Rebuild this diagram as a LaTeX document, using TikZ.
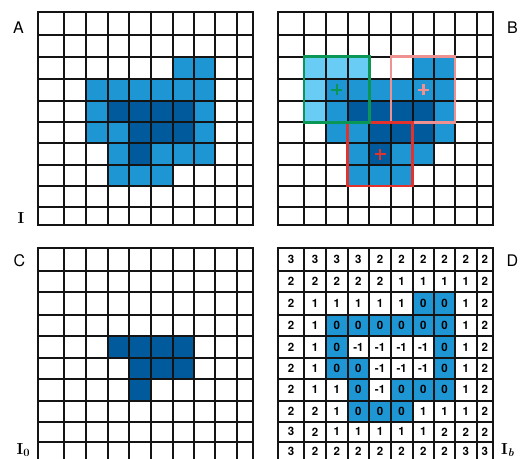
\documentclass[tikz,border=0pt]{standalone}
\usepackage{fontspec}
\setsansfont{TeX Gyre Heros}
\definecolor{midblue}{RGB}{30,150,212}
\definecolor{darkblue}{RGB}{0,90,155}
\definecolor{lightblue}{RGB}{104,204,245}
\definecolor{boxgreen}{RGB}{10,150,85}
\definecolor{boxpink}{RGB}{240,145,145}
\definecolor{boxred}{RGB}{225,50,45}
\definecolor{gridblack}{RGB}{20,20,20}
\newcommand\colx[2]{\pgfmathsetmacro#1{{38,64,86,107.5,129.3,150.8,172.5,194,215,236.5,253.3}[#2]}}
\newcommand\rowy[2]{\pgfmathsetmacro#1{{12,35,56.7,79,100.7,122.3,143.3,165,186,206.7,225}[#2]}}
\newcommand\cellbox[5]{%
  \pgfmathtruncatemacro\cn{#3+1}\pgfmathtruncatemacro\rn{#4+1}%
  \colx\xa{#3}\colx\xb{\cn}\rowy\ya{#4}\rowy\yb{\rn}%
  \fill[#5] ({\xa+#1},{\ya+#2}) rectangle ({\xb+#1},{\yb+#2});}
\newcommand\gridat[2]{%
  \foreach \gv in {38,64,86,107.5,129.3,150.8,172.5,194,215,236.5,253.3}
    \draw[gridline] ({\gv+#1},{12+#2}) -- ({\gv+#1},{225+#2});
  \foreach \gh in {12,35,56.7,79,100.7,122.3,143.3,165,186,206.7,225}
    \draw[gridline] ({38+#1},{\gh+#2}) -- ({253.3+#1},{\gh+#2});}
\begin{document}
\begin{tikzpicture}[x=1pt,y=-1pt,
  gridline/.style={line width=2pt,draw=gridblack,line cap=rect},
  num/.style={font=\sffamily\bfseries\fontsize{11.5}{13}\selectfont,inner sep=0pt},
  panellabel/.style={font=\sffamily\fontsize{16}{18}\selectfont,inner sep=0pt},
  imglabel/.style={font=\rmfamily\bfseries\fontsize{16}{18}\selectfont,inner sep=0pt,anchor=base west},
  winbox/.style={line width=2.5pt},
  plusmark/.style={line width=2.5pt}]
\useasboundingbox (0,0) rectangle (522,458);
\clip (0,0) rectangle (522,458);
\fill[white] (0,0) rectangle (522,458);
% ---------- Panel A ----------
\foreach \c/\r in {6/2,7/2,2/3,3/3,4/3,5/3,6/3,7/3,2/4,7/4,2/5,3/5,7/5,3/6,5/6,6/6,7/6,3/7,4/7,5/7}
  \cellbox{0}{0}{\c}{\r}{midblue};
\foreach \c/\r in {3/4,4/4,5/4,6/4,4/5,5/5,6/5,4/6}
  \cellbox{0}{0}{\c}{\r}{darkblue};
\gridat{0}{0}
% ---------- Panel B ----------
\foreach \c/\r in {6/2,7/2,2/3,3/3,4/3,5/3,6/3,7/3,2/4,7/4,2/5,3/5,7/5,3/6,5/6,6/6,3/7,4/7,5/7}
  \cellbox{240}{0}{\c}{\r}{midblue};
\foreach \c/\r in {3/4,4/4,5/4,6/4,4/5,5/5,6/5,4/6}
  \cellbox{240}{0}{\c}{\r}{darkblue};
\foreach \c/\r in {1/2,2/2,3/2,1/3,1/4}
  \cellbox{240}{0}{\c}{\r}{lightblue};
\gridat{240}{0}
\draw[winbox,boxpink] (390.8,56.7) rectangle (455,122.3);
\draw[winbox,boxred] (347.5,122.3) rectangle (412.5,186);
\draw[winbox,boxgreen] (304,56.7) rectangle (369.3,122.3);
\coordinate (pg) at (336.75,89.85);
\coordinate (pp) at (423.25,89.85);
\coordinate (pr) at (380,154.15);
\draw[plusmark,boxgreen] ([xshift=-5.5pt]pg) -- ([xshift=5.5pt]pg) ([yshift=-5.5pt]pg) -- ([yshift=5.5pt]pg);
\draw[plusmark,boxpink] ([xshift=-5.5pt]pp) -- ([xshift=5.5pt]pp) ([yshift=-5.5pt]pp) -- ([yshift=5.5pt]pp);
\draw[plusmark,boxred] ([xshift=-5.5pt]pr) -- ([xshift=5.5pt]pr) ([yshift=-5.5pt]pr) -- ([yshift=5.5pt]pr);
% ---------- Panel C ----------
\foreach \c/\r in {3/4,4/4,5/4,6/4,4/5,5/5,6/5,4/6}
  \cellbox{0}{235.5}{\c}{\r}{darkblue};
\gridat{0}{235.5}
% ---------- Panel D ----------
\foreach \r/\vals in {0/{3,3,3,3,2,2,2,2,2,2},1/{2,2,2,2,2,1,1,1,1,2},2/{2,1,1,1,1,1,0,0,1,2},
  3/{2,1,0,0,0,0,0,0,1,2},4/{2,1,0,-1,-1,-1,-1,0,1,2},5/{2,1,0,0,-1,-1,-1,0,1,2},
  6/{2,1,1,0,-1,0,0,0,1,2},7/{2,2,1,0,0,0,1,1,1,2},8/{3,2,1,1,1,1,1,2,2,2},9/{3,2,2,2,2,2,2,2,3,3}}{
  \foreach \v [count=\c from 0] in \vals {
    \ifnum\v=0 \cellbox{240}{235.5}{\c}{\r}{midblue}\fi
    \pgfmathtruncatemacro\cn{\c+1}\pgfmathtruncatemacro\rn{\r+1}
    \colx\xa{\c}\colx\xb{\cn}\rowy\ya{\r}\rowy\yb{\rn}
    \node[num] (d-\r-\c) at ({(\xa+\xb)/2+240},{(\ya+\yb)/2+235.5}) {\v};
  }
}
\gridat{240}{235.5}
% ---------- Labels ----------
\node[panellabel] (labA) at (18.5,28) {A};
\node[panellabel] (labB) at (512.5,27.5) {B};
\node[panellabel] (labC) at (19.5,260.5) {C};
\node[panellabel] (labD) at (512.5,260.5) {D};
\node[imglabel] (labI) at (17.5,223.5) {I};
\node[imglabel] (labI0) at (16.5,454) {I\textsubscript{0}};
\node[imglabel] (labIb) at (501,454) {I\textsubscript{\itshape b}};
\end{tikzpicture}
\end{document}
